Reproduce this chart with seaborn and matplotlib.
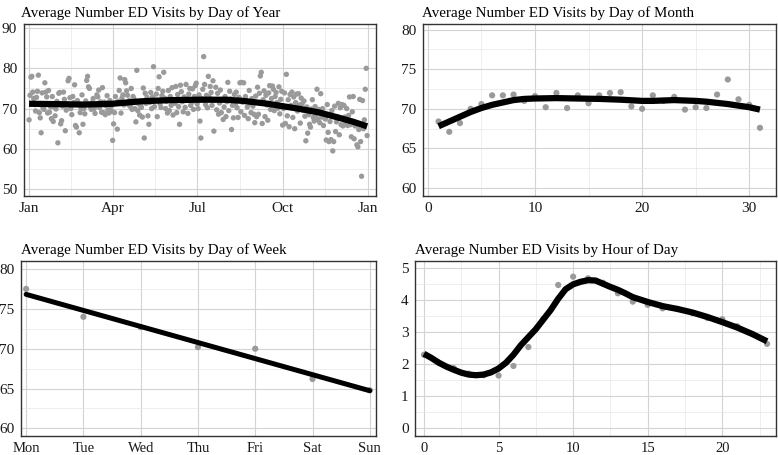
# ==============================================================================
# Visitas ao pronto-socorro (ED): 4 painéis com pontos médios + curva suavizada
# ==============================================================================

import numpy as np
import pandas as pd
import matplotlib
matplotlib.use('Agg')
import matplotlib.pyplot as plt
import seaborn as sns

# ------------------------------------------------------------------------------
# 1. Dados
# ------------------------------------------------------------------------------
# Painel 1: média diária por dia do ano (um vetor por mês)
jan = [67.2, 73.3, 77.8, 78.0, 74.1, 72.5, 71.0, 69.4, 72.8, 74.3,
       78.3, 69.0, 67.7, 64.0, 73.9, 70.2, 69.8, 76.4, 74.1, 72.9,
       68.9, 74.5, 69.1, 70.5, 67.5, 73.0, 66.8, 70.4, 68.2, 69.9, 71.8]
fev = [61.5, 73.8, 74.0, 66.2, 67.0, 70.6, 74.1, 72.3, 64.5, 69.6,
       71.2, 76.9, 77.5, 72.7, 70.0, 68.5, 73.0, 71.5, 75.9, 65.8,
       65.4, 72.0, 71.4, 64.0, 69.0, 70.1, 73.4, 66.1]
mar = [70.0, 68.7, 71.9, 77.0, 78.0, 75.4, 75.0, 70.4, 69.8, 71.5,
       72.5, 70.0, 68.8, 70.8, 73.4, 72.9, 74.6, 70.3, 71.7, 69.1,
       75.2, 69.0, 71.6, 68.5, 70.7, 73.2, 69.6, 68.9, 72.0, 70.5, 69.3]
abr = [62.1, 66.2, 69.0, 73.0, 71.4, 64.9, 71.8, 74.5, 77.6, 68.9,
       72.6, 73.4, 70.9, 77.2, 76.4, 74.4, 73.3, 71.0, 72.0, 70.5,
       75.0, 69.8, 73.0, 72.4, 70.0, 66.7, 79.5, 69.5, 71.2, 68.4]
mai = [70.7, 70.3, 67.9, 75.1, 62.7, 73.8, 71.3, 72.8, 68.2, 66.1,
       71.5, 74.0, 70.0, 72.9, 80.4, 70.5, 72.0, 73.6, 68.0, 75.0,
       77.9, 71.2, 70.3, 73.2, 74.3, 79.0, 72.6, 70.0, 71.8, 68.9, 74.5]
jun = [69.5, 73.0, 70.8, 75.2, 68.4, 72.2, 71.3, 75.5, 69.0, 73.5,
       70.5, 66.1, 75.8, 74.2, 71.7, 69.2, 72.9, 70.3, 76.0, 72.5,
       68.8, 73.6, 75.0, 70.8, 71.5, 74.9, 69.8, 73.0, 75.7, 76.3]
jul = [71.2, 70.0, 73.4, 66.9, 62.7, 72.5, 74.8, 82.9, 76.0, 71.0,
       73.3, 70.2, 78.0, 72.8, 75.5, 74.0, 70.8, 76.9, 64.4, 72.2,
       75.3, 69.7, 73.8, 68.6, 71.4, 74.6, 69.0, 72.0, 67.3, 70.4, 73.0]
ago = [68.0, 71.7, 76.5, 69.5, 74.3, 72.4, 64.8, 70.8, 67.7, 73.5,
       71.0, 74.1, 70.2, 67.8, 72.8, 76.4, 69.2, 76.5, 71.6, 76.4,
       68.3, 73.0, 72.0, 70.4, 67.5, 74.5, 71.3, 69.0, 72.5, 70.6, 68.6]
set_ = [66.5, 73.1, 68.0, 75.3, 68.6, 73.8, 78.1, 79.0, 66.3, 72.2,
        74.4, 68.0, 73.3, 70.9, 67.1, 73.9, 75.7, 69.8, 72.5, 75.6,
        74.8, 69.5, 73.0, 74.0, 71.5, 70.1, 75.4, 68.7, 72.3, 74.3]
out = [65.9, 70.0, 73.9, 66.3, 78.5, 68.2, 72.2, 65.5, 73.5, 70.8,
       74.1, 67.8, 72.9, 65.0, 71.5, 73.6, 69.4, 73.7, 70.9, 66.4,
       72.6, 71.2, 69.6, 71.9, 68.1, 62.0, 70.4, 63.9, 68.5, 66.1, 65.4]
nov = [69.9, 72.2, 67.8, 66.9, 70.5, 68.4, 74.8, 67.3, 69.8, 66.5,
       73.7, 67.9, 70.0, 65.8, 68.7, 67.4, 62.2, 71.0, 64.1, 61.8,
       66.8, 62.3, 69.5, 59.5, 61.8, 70.6, 64.3, 66.7, 68.0, 71.3]
dez = [63.5, 70.2, 66.0, 71.0, 65.7, 70.8, 67.9, 66.4, 70.0, 65.8,
       68.3, 72.9, 66.0, 63.0, 69.2, 73.0, 62.5, 65.7, 66.3, 61.0,
       60.5, 64.8, 72.3, 61.8, 53.2, 72.0, 65.0, 67.2, 74.8, 80.0, 63.3]

# curva suavizada do painel 1 (datas e valores)
suave_ano_datas = ['2019-01-01', '2019-02-01', '2019-03-01', '2019-04-01',
                   '2019-05-01', '2019-06-01', '2019-07-01', '2019-08-01',
                   '2019-08-20', '2019-09-15', '2019-10-01', '2019-10-20',
                   '2019-11-10', '2019-12-01', '2019-12-15', '2019-12-31']
suave_ano_valores = [71.2, 71.1, 71.0, 71.2, 71.8, 72.1, 72.2, 72.2,
                     71.9, 71.2, 70.6, 69.9, 69.0, 67.7, 66.8, 65.6]

# Painel 2: dia do mês
dia_mes = list(range(1, 32))
visitas_mes = [68.4, 67.1, 68.2, 70.0, 70.6, 71.7, 71.7, 71.8, 71.0, 71.6,
               70.2, 72.0, 70.1, 71.7, 70.7, 71.7, 72.0, 72.1, 70.3, 70.0,
               71.7, 71.0, 71.5, 69.9, 70.2, 70.1, 71.8, 73.7, 71.2, 70.5, 67.6]
suave_mes_x = [1, 2, 3, 4, 5, 6, 7, 8, 9, 10, 12, 14, 16, 18, 20,
               21, 22, 23, 24, 25, 26, 27, 28, 29, 30, 31]
suave_mes_y = [67.8, 68.4, 69.0, 69.6, 70.1, 70.5, 70.8, 71.1, 71.25, 71.3,
               71.35, 71.3, 71.25, 71.15, 71.0, 71.0, 71.05, 71.1, 71.05,
               71.0, 70.9, 70.75, 70.6, 70.4, 70.2, 69.9]

# Painel 3: dia da semana
dias_semana = ['Mon', 'Tue', 'Wed', 'Thu', 'Fri', 'Sat', 'Sun']
visitas_semana = [77.5, 74.0, 72.7, 70.2, 70.0, 66.2, 64.8]

# Painel 4: hora do dia
horas = list(range(24))
visitas_hora = [2.30, 2.05, 1.88, 1.71, 1.66, 1.65, 1.95, 2.54, 3.42, 4.48,
                4.74, 4.69, 4.55, 4.22, 3.96, 3.86, 3.75, 3.73, 3.60, 3.45,
                3.41, 3.19, 2.95, 2.64]
suave_hora_x = [0, 0.5, 1, 1.5, 2, 2.5, 3, 3.5, 4, 4.5, 5, 5.5, 6, 6.5, 7,
                7.5, 8, 8.5, 9, 9.5, 10, 10.5, 11, 11.5, 12, 12.5, 13, 13.5,
                14, 15, 16, 17, 18, 19, 20, 21, 22, 23]
suave_hora_y = [2.33, 2.2, 2.05, 1.93, 1.83, 1.74, 1.68, 1.66, 1.68, 1.75,
                1.87, 2.05, 2.3, 2.6, 2.85, 3.1, 3.4, 3.7, 4.05, 4.35, 4.5,
                4.58, 4.63, 4.62, 4.52, 4.42, 4.33, 4.22, 4.1, 3.95, 3.82,
                3.73, 3.62, 3.48, 3.32, 3.15, 2.95, 2.72]

# ------------------------------------------------------------------------------
# 2. Montando os dataframes
# ------------------------------------------------------------------------------
valores_ano = jan + fev + mar + abr + mai + jun + jul + ago + set_ + out + nov + dez
df_ano = pd.DataFrame({
    'data': pd.date_range('2019-01-01', periods=len(valores_ano), freq='D'),
    'visitas': valores_ano,
})
df_suave_ano = pd.DataFrame({'data': pd.to_datetime(suave_ano_datas),
                             'visitas': suave_ano_valores})
df_mes = pd.DataFrame({'dia': dia_mes, 'visitas': visitas_mes})
df_semana = pd.DataFrame({'dia': np.arange(len(dias_semana)), 'visitas': visitas_semana})
df_hora = pd.DataFrame({'hora': horas, 'visitas': visitas_hora})

# ------------------------------------------------------------------------------
# 3. Estilo
# ------------------------------------------------------------------------------
sns.set_theme(style='white')
plt.rcParams['font.family'] = ['Liberation Serif', 'DejaVu Serif']

COR_PONTO = '#9a9a9a'
COR_LINHA = 'black'
COR_GRADE = '#d3d3d3'
COR_GRADE_MENOR = '#e8e8e8'

W, H = 778, 455
fig = plt.figure(figsize=(W / 100, H / 100), dpi=100)


def novo_eixo(esq, dir_, topo, base):
    # posições em pixels -> fração da figura
    return fig.add_axes([esq / W, 1 - base / H, (dir_ - esq) / W, (base - topo) / H])


def estilo(ax, titulo, xmaj, ymaj, xmin=None, ymin=None, desloc_titulo=0.0):
    ax.set_xticks(xmaj)
    ax.set_yticks(ymaj)
    if xmin is not None:
        ax.set_xticks(xmin, minor=True)
    if ymin is not None:
        ax.set_yticks(ymin, minor=True)
    ax.grid(True, which='major', color=COR_GRADE, linewidth=0.8)
    ax.grid(True, which='minor', color=COR_GRADE_MENOR, linewidth=0.5)
    ax.set_axisbelow(True)
    for sp in ax.spines.values():
        sp.set_color('#333333')
        sp.set_linewidth(1.0)
        sp.set_visible(True)
    ax.tick_params(which='major', length=3, width=0.8, color='#333333',
                   labelsize=11, labelcolor='#1a1a1a', pad=1.5)
    ax.tick_params(which='minor', length=0)
    ax.set_xlabel('')
    ax.set_ylabel('')
    ax.set_title(titulo, loc='left', fontsize=10.8, pad=5, color='black',
                 x=desloc_titulo)


# ------------------------------------------------------------------------------
# 4. Painel 1: dia do ano
# ------------------------------------------------------------------------------
ax1 = novo_eixo(23.5, 375.5, 24, 196)
sns.scatterplot(data=df_ano, x='data', y='visitas', ax=ax1, color=COR_PONTO,
                s=15, edgecolor='none', linewidth=0)
sns.lineplot(data=df_suave_ano, x='data', y='visitas', ax=ax1, color=COR_LINHA,
             linewidth=4.5, solid_capstyle='butt')
marcas_ano = pd.to_datetime(['2019-01-01', '2019-04-01', '2019-07-01',
                             '2019-10-01', '2020-01-01'])
meios_ano = marcas_ano[:-1] + (marcas_ano[1:] - marcas_ano[:-1]) / 2
estilo(ax1, 'Average Number ED Visits by Day of Year', marcas_ano,
       [50, 60, 70, 80, 90], meios_ano, [55, 65, 75, 85], desloc_titulo=-0.008)
ax1.set_xticklabels(['Jan', 'Apr', 'Jul', 'Oct', 'Jan'])
ax1.set_xlim(pd.Timestamp('2018-12-26'), pd.Timestamp('2020-01-09'))
ax1.set_ylim(48.3, 91.0)

# ------------------------------------------------------------------------------
# 5. Painel 2: dia do mês
# ------------------------------------------------------------------------------
ax2 = novo_eixo(422.5, 776, 24, 196)
sns.scatterplot(data=df_mes, x='dia', y='visitas', ax=ax2, color=COR_PONTO,
                s=20, edgecolor='none', linewidth=0)
sns.lineplot(x=suave_mes_x, y=suave_mes_y, ax=ax2, color=COR_LINHA,
             linewidth=4.5, solid_capstyle='butt')
estilo(ax2, 'Average Number ED Visits by Day of Month', [0, 10, 20, 30],
       [60, 65, 70, 75, 80], [5, 15, 25], [62.5, 67.5, 72.5, 77.5])
ax2.set_xlim(-0.5, 32.5)
ax2.set_ylim(59.0, 80.7)

# ------------------------------------------------------------------------------
# 6. Painel 3: dia da semana (ajuste linear)
# ------------------------------------------------------------------------------
ax3 = novo_eixo(21, 375.5, 261, 436)
sns.scatterplot(data=df_semana, x='dia', y='visitas', ax=ax3, color=COR_PONTO,
                s=20, edgecolor='none', linewidth=0)
sns.regplot(data=df_semana, x='dia', y='visitas', ax=ax3, scatter=False,
            ci=None, color=COR_LINHA, line_kws={'linewidth': 3.6})
estilo(ax3, 'Average Number ED Visits by Day of Week', range(7),
       [60, 65, 70, 75, 80], None, [62.5, 67.5, 72.5, 77.5])
ax3.set_xticklabels(dias_semana)
ax3.set_xlim(-0.09, 6.1)
ax3.set_ylim(59.05, 81.0)

# ------------------------------------------------------------------------------
# 7. Painel 4: hora do dia
# ------------------------------------------------------------------------------
ax4 = novo_eixo(415, 776, 261, 436)
sns.scatterplot(data=df_hora, x='hora', y='visitas', ax=ax4, color=COR_PONTO,
                s=20, edgecolor='none', linewidth=0)
sns.lineplot(x=suave_hora_x, y=suave_hora_y, ax=ax4, color=COR_LINHA,
             linewidth=4.5, solid_capstyle='butt')
estilo(ax4, 'Average Number ED Visits by Hour of Day', [0, 5, 10, 15, 20],
       [0, 1, 2, 3, 4, 5], [2.5, 7.5, 12.5, 17.5, 22.5],
       [0.5, 1.5, 2.5, 3.5, 4.5])
ax4.set_xlim(-0.6, 23.6)
ax4.set_ylim(-0.24, 5.23)

# rótulos do eixo x da linha de baixo um pouco menores, para caberem na figura
for ax in (ax3, ax4):
    ax.tick_params(axis='x', labelsize=10.5, pad=1)

fig.savefig('out.png', dpi=100)
print("✅ Figura salva em out.png")
